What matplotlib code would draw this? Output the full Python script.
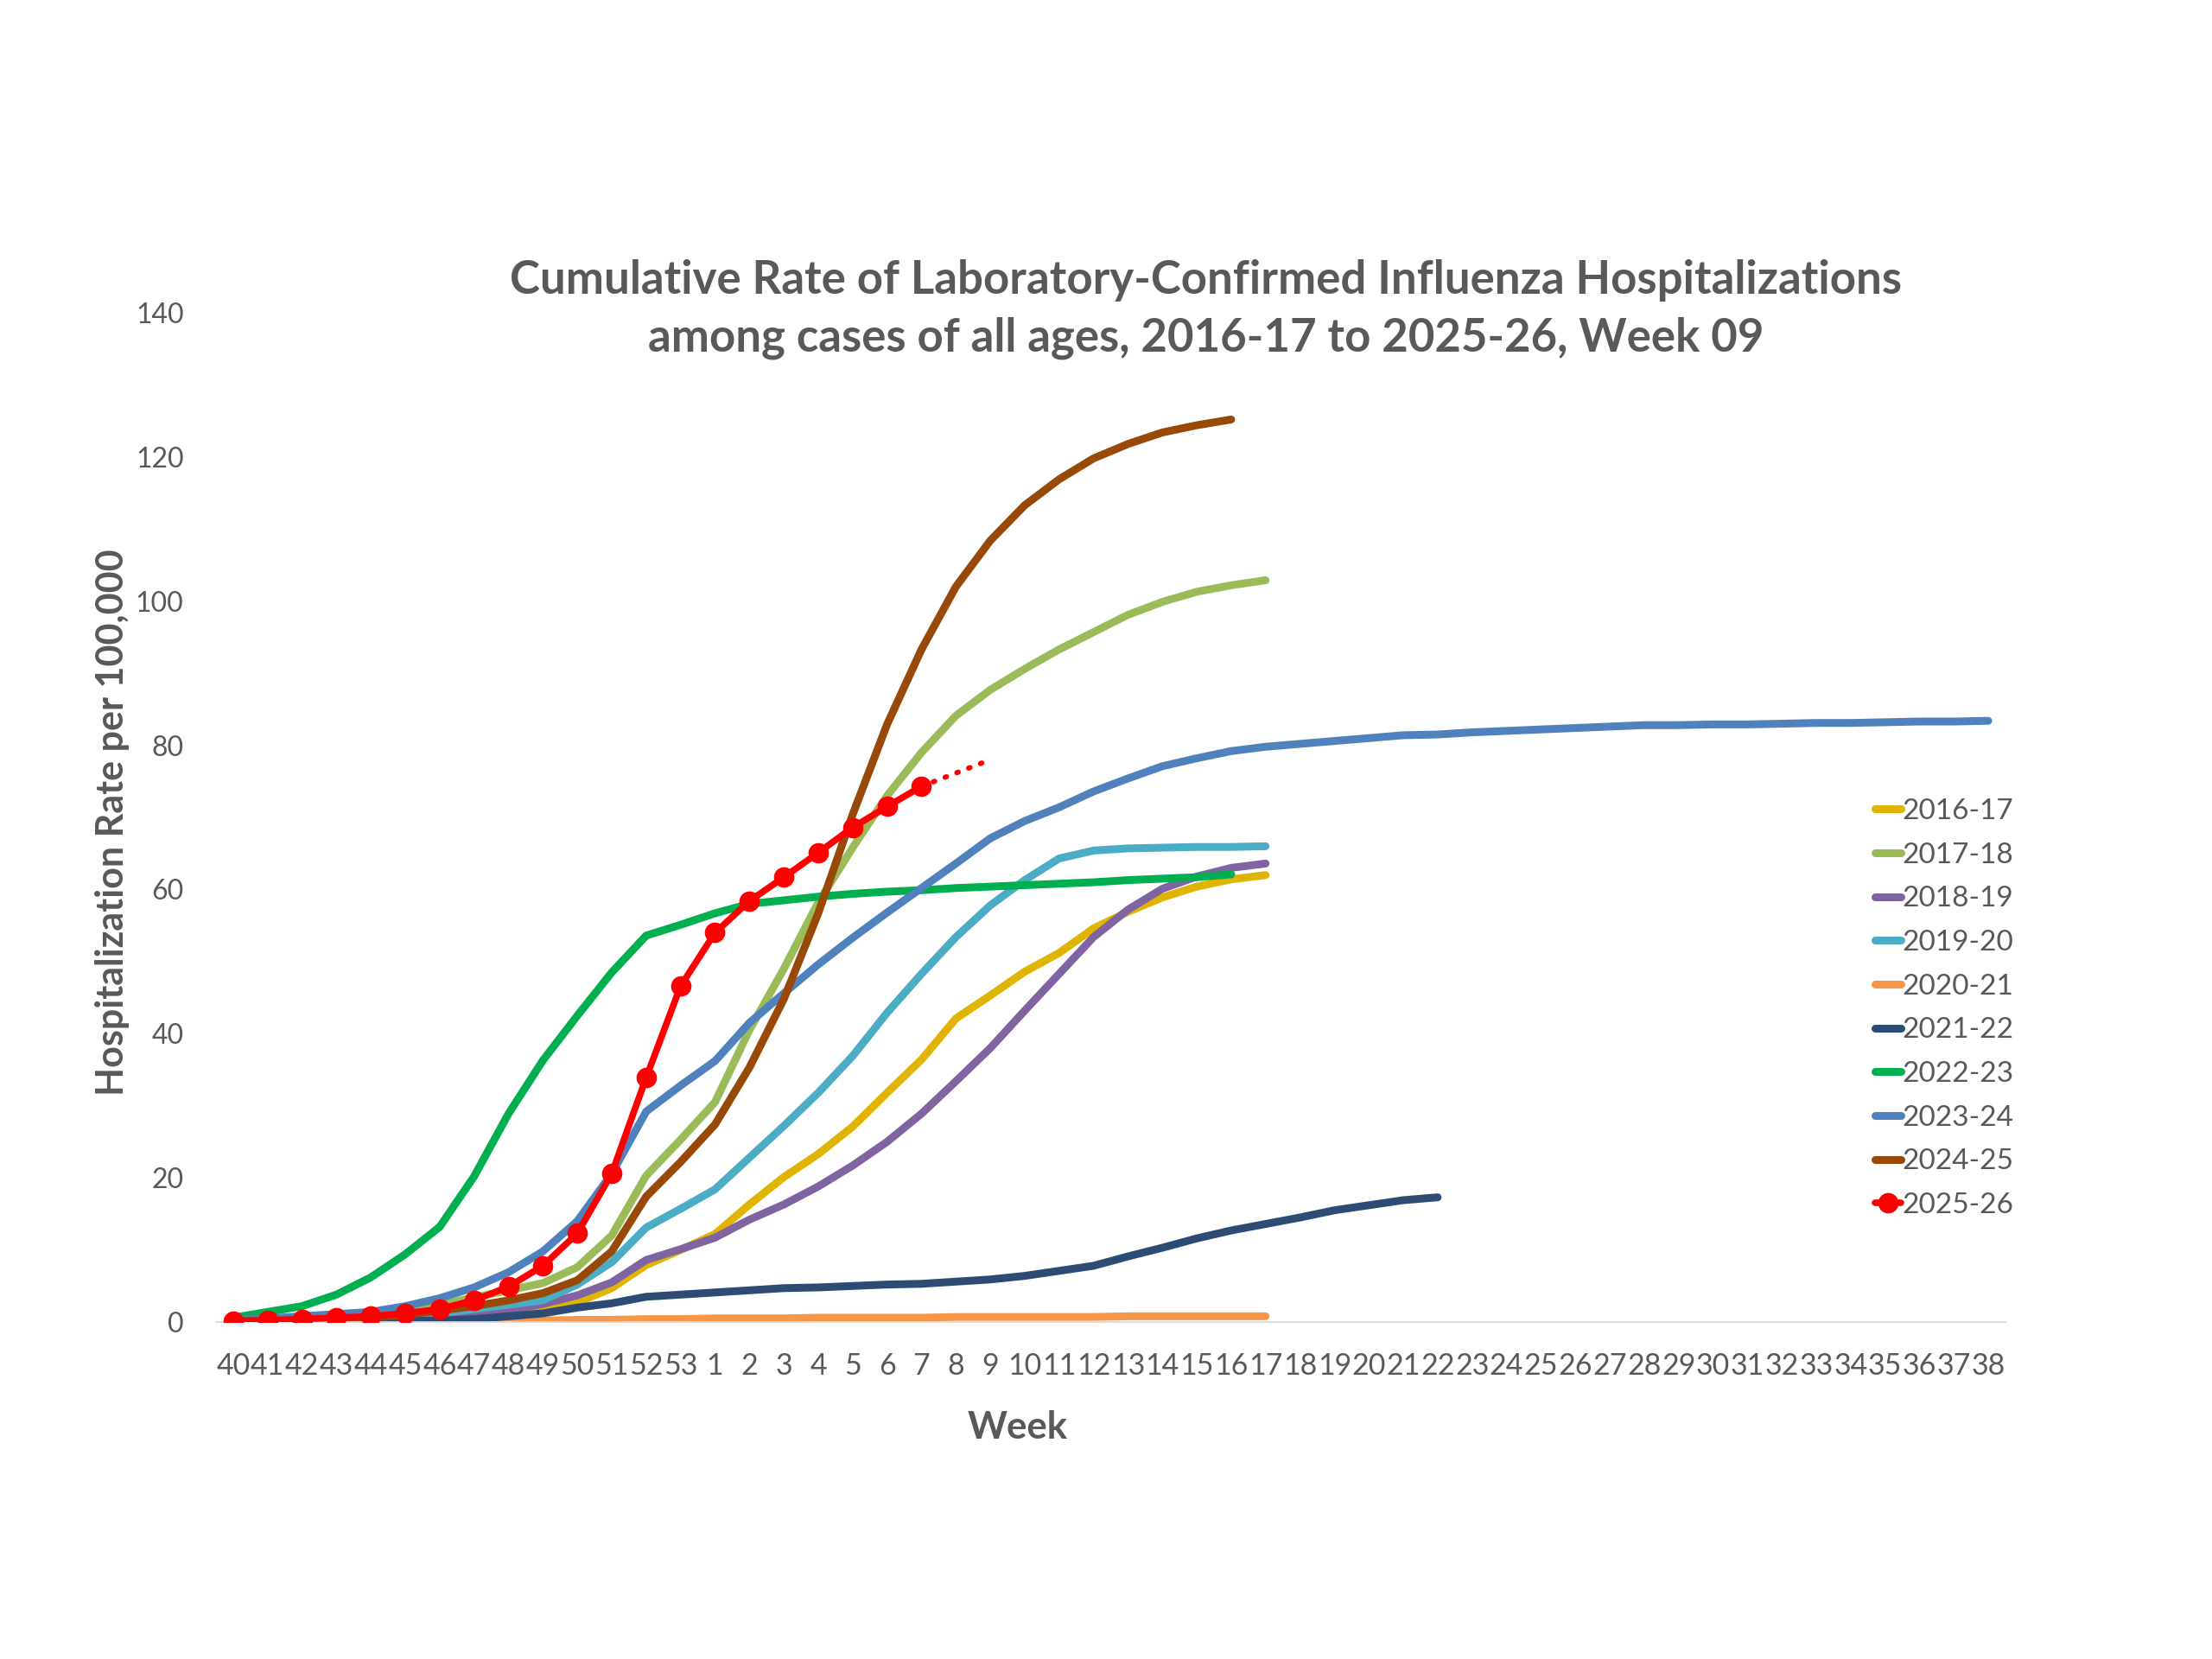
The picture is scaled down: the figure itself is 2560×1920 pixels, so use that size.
import matplotlib
matplotlib.use('Agg')
import matplotlib.pyplot as plt

plt.rcParams['font.family'] = ['Lato', 'DejaVu Sans']

# x categories: surveillance weeks 40..53 then 1..38
weeks = [str(w) for w in range(40, 54)] + [str(w) for w in range(1, 39)]

seasons = ['2016-17', '2017-18', '2018-19', '2019-20', '2020-21',
           '2021-22', '2022-23', '2023-24', '2024-25', '2025-26']

s2016 = [0.1, 0.1, 0.2, 0.2, 0.3, 0.4, 0.5, 0.7, 1.0, 1.6, 2.7, 4.7, 7.9, 10.0, 12.2, 16.3,
         20.1, 23.3, 27.1, 31.8, 36.4, 42.1, 45.3, 48.6, 51.2, 54.6, 56.9, 58.9, 60.4, 61.4, 62.0]
s2017 = [0.2, 0.3, 0.5, 0.7, 1.0, 1.6, 2.4, 3.4, 4.4, 5.4, 7.6, 12.0, 20.3, 25.3, 30.5, 40.5,
         49.0, 58.2, 65.8, 73.0, 79.0, 84.1, 87.7, 90.6, 93.3, 95.7, 98.1, 99.9, 101.3, 102.2, 102.9]
s2018 = [0.1, 0.1, 0.2, 0.2, 0.3, 0.4, 0.6, 1.0, 1.6, 2.5, 3.7, 5.5, 8.6, 10.1, 11.7, 14.2,
         16.3, 18.8, 21.7, 25.0, 28.9, 33.4, 38.0, 43.2, 48.3, 53.4, 57.2, 60.1, 61.8, 63.0, 63.6]
s2019 = [0.1, 0.2, 0.3, 0.4, 0.5, 0.8, 1.2, 1.8, 2.4, 3.0, 5.2, 8.3, 13.1, 15.7, 18.4, 22.8,
         27.2, 31.8, 36.9, 42.9, 48.3, 53.4, 57.8, 61.3, 64.3, 65.4, 65.7, 65.8, 65.9, 65.9, 66.0]
s2020 = [0.0, 0.0, 0.0, 0.0, 0.0, 0.1, 0.1, 0.1, 0.2, 0.2, 0.3, 0.3, 0.4, 0.4, 0.5, 0.5,
         0.5, 0.6, 0.6, 0.6, 0.6, 0.7, 0.7, 0.7, 0.7, 0.7, 0.8, 0.8, 0.8, 0.8, 0.8]
s2021 = [0.1, 0.1, 0.1, 0.1, 0.1, 0.2, 0.2, 0.4, 0.8, 1.2, 2.0, 2.6, 3.5, 3.8, 4.1, 4.4,
         4.7, 4.8, 5.0, 5.2, 5.3, 5.6, 5.9, 6.4, 7.1, 7.8, 9.1, 10.3, 11.6, 12.7, 13.6, 14.5,
         15.5, 16.2, 16.9, 17.3]
s2022 = [0.6, 1.4, 2.2, 3.8, 6.2, 9.4, 13.2, 20.2, 28.9, 36.3, 42.5, 48.5, 53.6, 55.1, 56.7, 58.0,
         58.5, 59.0, 59.4, 59.7, 59.9, 60.2, 60.4, 60.6, 60.8, 61.0, 61.3, 61.5, 61.7, 62.1]
s2023 = [0.3, 0.5, 0.8, 1.1, 1.4, 2.2, 3.3, 4.8, 6.9, 9.8, 14.0, 20.6, 29.2, 32.8, 36.2, 41.5,
         45.6, 49.6, 53.3, 56.8, 60.2, 63.6, 67.1, 69.5, 71.4, 73.6, 75.4, 77.1, 78.2, 79.2, 79.8, 80.2,
         80.6, 81.0, 81.4, 81.5, 81.8, 82.0, 82.2, 82.4, 82.6, 82.8, 82.8, 82.9, 82.9, 83.0, 83.1, 83.1,
         83.2, 83.3, 83.3, 83.4]
s2024 = [0.1, 0.2, 0.3, 0.4, 0.6, 1.0, 1.6, 2.2, 3.0, 4.0, 5.8, 9.8, 17.4, 22.2, 27.4, 35.3,
         44.8, 56.7, 70.4, 82.9, 93.3, 102.0, 108.4, 113.3, 116.9, 119.8, 121.8, 123.4, 124.4, 125.2]
s2025 = [0.1, 0.2, 0.4, 0.6, 0.8, 1.2, 1.8, 3.0, 4.9, 7.8, 12.3, 20.6, 33.9, 46.6, 54.0, 58.4,
         61.7, 65.1, 68.6, 71.5, 74.3]

# dotted projection of the current season
proj_weeks = ['7', '9']
proj_vals = [74.3, 78.0]

colors = ['#E0B400', '#9BBB59', '#8064A2', '#4BACC6', '#F79646',
          '#2C4C75', '#00B050', '#4F81BD', '#984807', '#FF0000']

series = [s2016, s2017, s2018, s2019, s2020, s2021, s2022, s2023, s2024, s2025]

grey = '#595959'

fig = plt.figure(figsize=(25.6, 19.2), dpi=100)
ax = fig.add_axes([250 / 2560, 1 - 1530 / 1920, (2321 - 250) / 2560, (1530 - 362) / 1920])

x_all = list(range(len(weeks)))
for name, vals, c in zip(seasons, series, colors):
    xs = x_all[:len(vals)]
    if name == '2025-26':
        ax.plot(xs, vals, color=c, lw=5.5, marker='o', markersize=16,
                solid_capstyle='round', label=name, zorder=5)
    else:
        ax.plot(xs, vals, color=c, lw=6.5, solid_capstyle='round', label=name)

px = [weeks.index(w) for w in proj_weeks]
ax.plot(px, proj_vals, color='#FF0000', lw=4.3, linestyle=(0, (0.3, 2.15)),
        dash_capstyle='round', zorder=4)

ax.set_xlim(-0.5, len(weeks) - 0.5)
ax.set_ylim(0, 140)
ax.set_xticks(x_all)
ax.set_xticklabels(weeks)
ax.set_yticks(range(0, 141, 20))

for s in ['top', 'right', 'left']:
    ax.spines[s].set_visible(False)
ax.spines['bottom'].set_color('#D9D9D9')
ax.spines['bottom'].set_linewidth(1.3)
ax.tick_params(axis='both', length=0, labelcolor=grey)
ax.tick_params(axis='x', pad=25, labelsize=24.5)
ax.tick_params(axis='y', pad=27, labelsize=23)

fig.text(1396 / 2560, 1 - 358 / 1920,
         'Cumulative Rate of Laboratory-Confirmed Influenza Hospitalizations\n'
         'among cases of all ages, 2016-17 to 2025-26, Week 09',
         ha='center', va='center', fontsize=38, fontweight='bold', color=grey,
         linespacing=1.42)
fig.text(130 / 2560, 1 - 952 / 1920, 'Hospitalization Rate per 100,000',
         rotation=90, ha='center', va='center', fontsize=31, fontweight='bold', color=grey)
fig.text(1178 / 2560, 1 - 1652 / 1920, 'Week', ha='center', va='center',
         fontsize=31.5, fontweight='bold', color=grey)

leg = fig.legend(loc='upper left', bbox_to_anchor=(2170 / 2560, 1 - 924 / 1920),
                 frameon=False, fontsize=24, handlelength=0.9, handletextpad=0.05,
                 labelspacing=0.62, borderpad=0, borderaxespad=0)
for t in leg.get_texts():
    t.set_color(grey)

fig.savefig('out.png', dpi=100)
